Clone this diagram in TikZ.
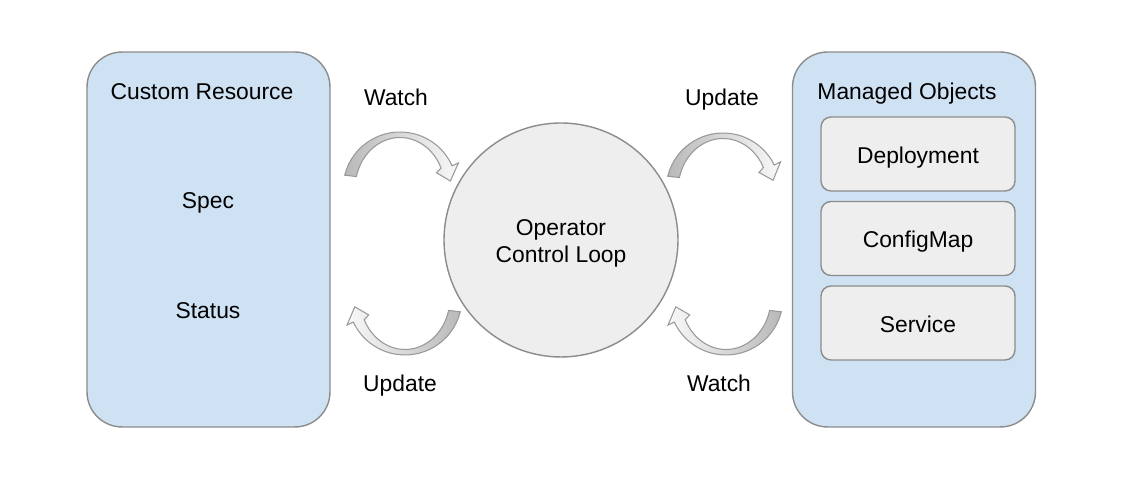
\documentclass[tikz,border=0pt]{standalone}
\usepackage{fontspec}
\setmainfont{Liberation Sans}
\usepackage{tikz}
\usetikzlibrary{positioning}
\usetikzlibrary{calc}

\definecolor{crblue}{HTML}{CFE2F3}
\definecolor{boxgray}{HTML}{EEEEEE}
\definecolor{edgegray}{HTML}{8C8C8C}

% curved arrow: centre x, centre y, tail angle, head angle, tip angle, style
\newcommand{\bendarrow}[6]{
  \path[#6] (#1,#2) ++(#3:1.14cm) arc[start angle=#3, end angle=#4, radius=1.14cm]
    -- ($(#1,#2)+(#4:1.28cm)$) -- ($(#1,#2)+(#5:1.02cm)$) -- ($(#1,#2)+(#4:0.8cm)$)
    -- ($(#1,#2)+({0.9cm*cos(#4)},{1.03cm*sin(#4)})$)
    arc[start angle=#4, end angle=#3, x radius=0.9cm, y radius=1.03cm] -- cycle;
}

\tikzset{
  bigbox/.style={draw=edgegray, fill=crblue, line width=0.8pt, rounded corners=0.7cm,
    minimum width=4.86cm, minimum height=7.5cm},
  objbox/.style={draw=edgegray, fill=boxgray, line width=0.8pt, rounded corners=0.2cm,
    minimum width=3.88cm, minimum height=1.48cm, text height=12.9pt},
  loopnode/.style={draw=edgegray, fill=boxgray, line width=0.8pt, circle,
    minimum size=4.68cm},
  txt/.style={font=\fontsize{13}{15.5}\selectfont, text height=9.5pt, text depth=2.5pt},
  arrowdown/.style={draw=gray!80, line width=0.6pt, left color=gray!55, right color=gray!5},
  arrowup/.style={draw=gray!80, line width=0.6pt, left color=gray!5, right color=gray!55}
}

\begin{document}
\begin{tikzpicture}[x=0.02cm, y=0.02cm, every node/.append style={txt}]
  \useasboundingbox (0,0) rectangle (1130,482);

  % custom resource
  \node[bigbox] (cr) at (208.5,242.5) {};
  \node (crtitle) at (202,389) {Custom Resource};
  \node (spec) at (208,280) {Spec};
  \node (status) at (208,170) {Status};

  % managed objects
  \node[bigbox] (mo) at (914,242.5) {};
  \node (motitle) at (907,389) {Managed Objects};
  \node[objbox] (deploy) at (918,328) {Deployment};
  \node[objbox] (cfgmap) at (918,243.5) {ConfigMap};
  \node[objbox] (svc) at (918,159) {Service};

  % control loop
  \node[loopnode] (loop) at (561,242) {};
  \node[align=center, text height=, text depth=] (looplabel) at ([yshift=-0.07cm]loop.center)
    {Operator\\Control Loop};

  % curved arrows
  \bendarrow{400}{293}{166}{24}{9}{arrowdown}
  \bendarrow{723}{292}{166}{26}{11}{arrowdown}
  \bendarrow{405}{184}{346}{205}{190}{arrowup}
  \bendarrow{726}{184}{346}{205}{190}{arrowup}

  \node (watchl) at (396,383) {Watch};
  \node (updater) at (722,383) {Update};
  \node (updatel) at (400,97) {Update};
  \node (watchr) at (719,97) {Watch};
\end{tikzpicture}
\end{document}
